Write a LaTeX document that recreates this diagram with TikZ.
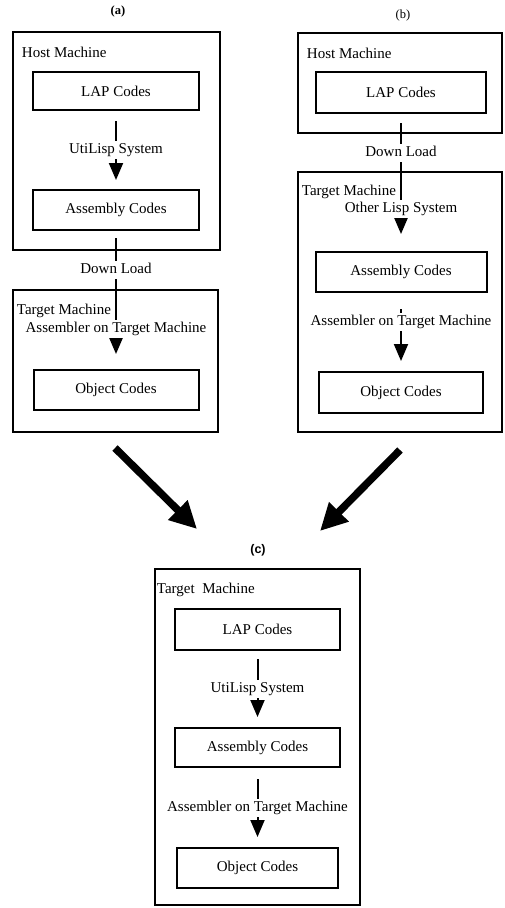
\documentclass[tikz,border=0pt]{standalone}
\usepackage{fontspec}
\setmainfont{Liberation Serif}
\setsansfont{Liberation Sans}
\usetikzlibrary{arrows.meta}

\tikzset{
  machine/.style={draw, line width=2pt, inner sep=0pt},
  codes/.style={draw, line width=2pt, inner sep=0pt, font=\fontsize{15}{18}\selectfont},
  tag/.style={anchor=west, inner sep=0.75pt, font=\fontsize{15}{18}\selectfont},
  via/.style={fill=white, inner sep=2pt, text height=10.5pt, text depth=3.5pt, font=\fontsize{15}{18}\selectfont},
  flow/.style={line width=2pt, -{Triangle[length=17pt,width=14pt]}},
  merge/.style={line width=7.5pt, -{Triangle[length=27pt,width=26pt]}},
}

\begin{document}
\begin{tikzpicture}[x=1pt,y=1pt,yscale=-1]
\useasboundingbox (0,0) rectangle (505,908);

% (a) compile on the host, then down load
\node[font=\fontsize{12.5}{14}\selectfont\bfseries] (cap_a) at (118,11) {(a)};
\node[machine, minimum width=207pt, minimum height=218pt] (host_a) at (116.5,141) {};
\node[tag] (host_a_tag) at (21,52) {Host Machine};
\node[codes, minimum width=166pt, minimum height=38pt] (lap_a) at (116,91) {LAP Codes};
\node[codes, minimum width=166pt, minimum height=40pt] (asm_a) at (116,210) {Assembly Codes};
\node[machine, minimum width=205pt, minimum height=142pt] (tgt_a) at (115.5,361) {};
\node[tag] (tgt_a_tag) at (16,311) {Target Machine};
\node[codes, minimum width=165pt, minimum height=40pt] (obj_a) at (116,390) {Object Codes};

\draw[flow, shorten <=10pt, shorten >=9pt] (lap_a) -- node[via] {UtiLisp System} (asm_a);
\draw[flow, shorten <=7pt, shorten >=15pt] (asm_a)
  -- node[via, pos=0.286] {Down Load}
     node[via, pos=0.71] {Assembler on Target Machine} (obj_a);

% (b) down load first, then compile on the target
\node[font=\fontsize{12.5}{14}\selectfont] (cap_b) at (403,15) {(b)};
\node[machine, minimum width=204pt, minimum height=100pt] (host_b) at (400,83) {};
\node[tag] (host_b_tag) at (306,53) {Host Machine};
\node[codes, minimum width=170pt, minimum height=41pt] (lap_b) at (401,92.5) {LAP Codes};
\node[machine, minimum width=204pt, minimum height=260pt] (tgt_b) at (400,302) {};
\node[tag] (tgt_b_tag) at (301,192) {Target Machine};
\node[codes, minimum width=171pt, minimum height=40pt] (asm_b) at (401,272) {Assembly Codes};
\node[codes, minimum width=164pt, minimum height=41pt] (obj_b) at (401,392.5) {Object Codes};

\draw[flow, shorten <=9pt, shorten >=17pt] (lap_b)
  -- node[via, pos=0.288] {Down Load}
     node[via, pos=0.695] {Other Lisp System} (asm_b);
\draw[flow, shorten <=16pt, shorten >=10pt] (asm_b)
  -- node[via, pos=0.375] {Assembler on Target Machine} (obj_b);

% both routes end up in (c)
\coordinate (a_out) at (115,448);
\coordinate (a_in) at (197,529);
\coordinate (b_out) at (400,450);
\coordinate (b_in) at (320,531);
\draw[merge] (a_out) -- (a_in);
\draw[merge] (b_out) -- (b_in);

% (c) everything on the target
\node[font=\fontsize{12.5}{14}\selectfont\sffamily\bfseries] (cap_c) at (258,550) {(c)};
\node[machine, minimum width=205pt, minimum height=336pt] (tgt_c) at (257.5,737) {};
\node[tag] (tgt_c_tag) at (156,590) {Target~~Machine};
\node[codes, minimum width=165pt, minimum height=41pt] (lap_c) at (257.5,629.5) {LAP Codes};
\node[codes, minimum width=165pt, minimum height=39pt] (asm_c) at (257.5,747.5) {Assembly Codes};
\node[codes, minimum width=161pt, minimum height=40pt] (obj_c) at (257.5,868) {Object Codes};

\draw[flow, shorten <=8pt, shorten >=10pt] (lap_c) -- node[via] {UtiLisp System} (asm_c);
\draw[flow, shorten <=11pt, shorten >=10pt] (asm_c) -- node[via] {Assembler on Target Machine} (obj_c);
\end{tikzpicture}
\end{document}
